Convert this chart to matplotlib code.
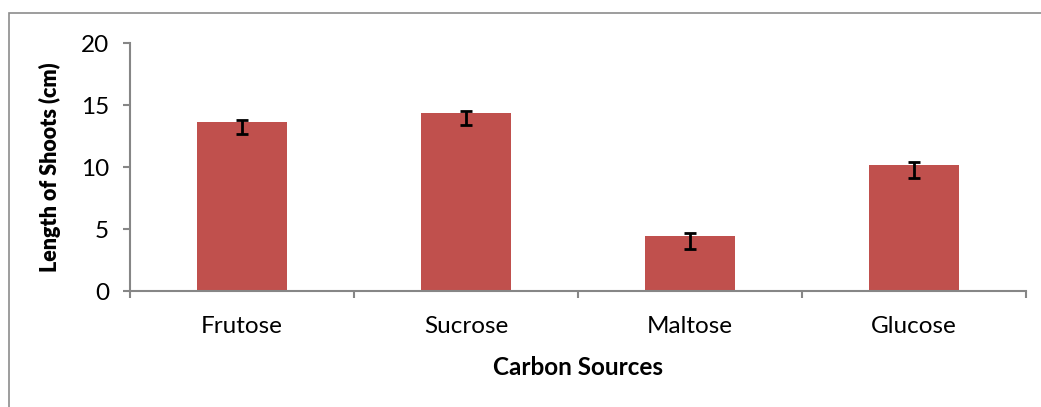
import matplotlib.pyplot as plt
from matplotlib.patches import Rectangle

# data
sources = ['Frutose', 'Sucrose', 'Maltose', 'Glucose']
shoot_length = [13.65, 14.38, 4.44, 10.16]
err_low = [0.95, 1.02, 1.03, 1.02]
err_high = [0.15, 0.11, 0.21, 0.22]
y_ticks = [0, 5, 10, 15, 20]

plt.rcParams['font.family'] = ['Lato', 'DejaVu Sans']

fig = plt.figure(figsize=(10.41, 4.07), dpi=100)
ax = fig.add_axes([130/1041, 116/407, 896/1041, 248/407])

# outer chart frame, only left and top edges are inside the picture
top = (407 - 13) / 407
fig.patches.append(Rectangle((9/1041, -0.1), 1.2, top + 0.1,
                             transform=fig.transFigure, fill=False,
                             edgecolor='#8c8c8c', linewidth=1.2))

x = range(len(sources))
ax.bar(x, shoot_length, width=0.4, color='#C0504D', zorder=2)
ax.errorbar(x, shoot_length, yerr=[err_low, err_high], fmt='none',
            ecolor='black', elinewidth=2, capsize=4.5, capthick=2, zorder=3)

ax.set_xlim(-0.5, 3.5)
ax.set_ylim(0, 20)
ax.set_yticks(y_ticks)
ax.set_xticks(list(x))
ax.set_xticklabels(sources)
ax.set_xticks([-0.5, 0.5, 1.5, 2.5, 3.5], minor=True)

for s in ['top', 'right']:
    ax.spines[s].set_visible(False)
for s in ['left', 'bottom']:
    ax.spines[s].set_color('#868686')
    ax.spines[s].set_linewidth(1.5)

ax.tick_params(axis='y', direction='out', length=5, width=1.5, color='#868686',
               labelsize=17.5, pad=10)
ax.tick_params(axis='x', which='major', length=0, labelsize=17.5, pad=18)
ax.tick_params(axis='x', which='minor', direction='out', length=5, width=1.5,
               color='#868686')

ax.set_xlabel('Carbon Sources', fontsize=17.5, fontweight='bold', labelpad=14)
ax.set_ylabel('Length of Shoots (cm)', fontsize=15.5, fontweight='heavy', labelpad=14)

fig.savefig('out.png', dpi=100)
